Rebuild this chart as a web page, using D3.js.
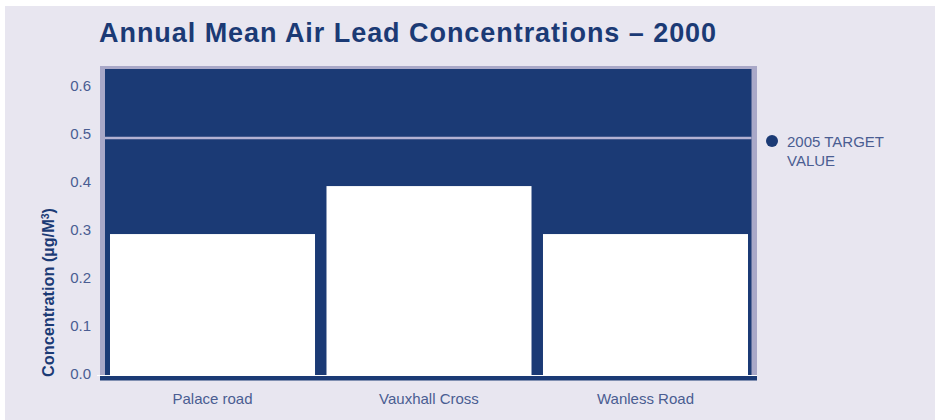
<!DOCTYPE html>
<html>
<head>
<meta charset="utf-8">
<script src="https://cdn.jsdelivr.net/npm/d3@7"></script>
<style>
  body { margin: 0; background: #fff; }
  text { font-family: "Liberation Sans", Arial, Helvetica, sans-serif; }
</style>
</head>
<body>
<script>
// chart data
var sites = ["Palace road", "Vauxhall Cross", "Wanless Road"];
var concentrations = [0.3, 0.4, 0.3];
var targetValue = 0.5;
var yTicks = [0.0, 0.1, 0.2, 0.3, 0.4, 0.5, 0.6];
var legendLines = ["2005 TARGET", "VALUE"];

var width = 935, height = 420;
var navy = "#1b3a75", frame = "#a9a8c8", bg = "#e8e6f0", tickCol = "#4a5d92";

var svg = d3.select("body").append("svg")
    .attr("width", width)
    .attr("height", height);

// panel background
svg.append("rect")
    .attr("x", 5).attr("y", 6)
    .attr("width", width - 5).attr("height", height - 6)
    .attr("fill", bg);

svg.append("text")
    .attr("x", 99).attr("y", 42)
    .attr("fill", navy)
    .style("font-size", "27px")
    .style("font-weight", "bold")
    .style("letter-spacing", "0.95px")
    .text("Annual Mean Air Lead Concentrations \u2013 2000");

var y = d3.scaleLinear()
    .domain([0, 0.644])
    .range([378, 69]);

var x = d3.scaleBand()
    .domain(sites)
    .range([110, 748])
    .paddingInner(0.053)
    .paddingOuter(0);

// plot frame + navy fill
svg.append("rect")
    .attr("x", 100).attr("y", 66)
    .attr("width", 657).attr("height", y(0) - 66)
    .attr("fill", frame);
svg.append("rect")
    .attr("x", 105).attr("y", y.range()[1])
    .attr("width", 646.5).attr("height", y(0) - y.range()[1])
    .attr("fill", navy);

// target line
svg.append("line")
    .attr("x1", 105).attr("x2", 751.5)
    .attr("y1", y(targetValue)).attr("y2", y(targetValue))
    .attr("stroke", "#b3b1d2")
    .attr("stroke-width", 2.5);

// bars
svg.append("g")
    .selectAll("rect")
    .data(concentrations)
    .enter().append("rect")
    .attr("x", function(d, i) { return x(sites[i]); })
    .attr("y", function(d) { return y(d); })
    .attr("width", x.bandwidth())
    .attr("height", function(d) { return y(0) - y(d); })
    .attr("fill", "#fff");

// baseline
svg.append("line")
    .attr("x1", 97).attr("x2", 757)
    .attr("y1", 375.5).attr("y2", 375.5)
    .attr("stroke", "#fff").attr("stroke-width", 1);
svg.append("rect")
    .attr("x", 100).attr("y", 376)
    .attr("width", 657).attr("height", 4.5)
    .attr("fill", navy);

// y tick labels
svg.append("g")
    .selectAll("text")
    .data(yTicks)
    .enter().append("text")
    .attr("x", 91)
    .attr("y", function(d) { return y(d); })
    .attr("dy", "0.9px")
    .attr("text-anchor", "end")
    .attr("fill", tickCol)
    .style("font-size", "15px")
    .text(function(d) { return d.toFixed(1); });

// category labels
svg.append("g")
    .selectAll("text")
    .data(sites)
    .enter().append("text")
    .attr("x", function(d) { return x(d) + x.bandwidth() / 2; })
    .attr("y", 404)
    .attr("text-anchor", "middle")
    .attr("fill", tickCol)
    .style("font-size", "15px")
    .text(function(d) { return d; });

// y axis title
var yt = svg.append("text")
    .attr("transform", "translate(54,377) rotate(-90)")
    .attr("fill", navy)
    .style("font-size", "16.3px")
    .style("font-weight", "bold");
yt.append("tspan").text("Concentration (\u00b5g/M");
yt.append("tspan").attr("dy", -5).style("font-size", "10.5px").text("3");
yt.append("tspan").attr("dy", 5).text(")");

// legend
svg.append("circle")
    .attr("cx", 772).attr("cy", 141).attr("r", 6)
    .attr("fill", navy);
svg.append("g")
    .selectAll("text")
    .data(legendLines)
    .enter().append("text")
    .attr("x", 787)
    .attr("y", function(d, i) { return 147 + i * 19; })
    .attr("fill", tickCol)
    .style("font-size", "15px")
    .text(function(d) { return d; });
</script>
</body>
</html>
